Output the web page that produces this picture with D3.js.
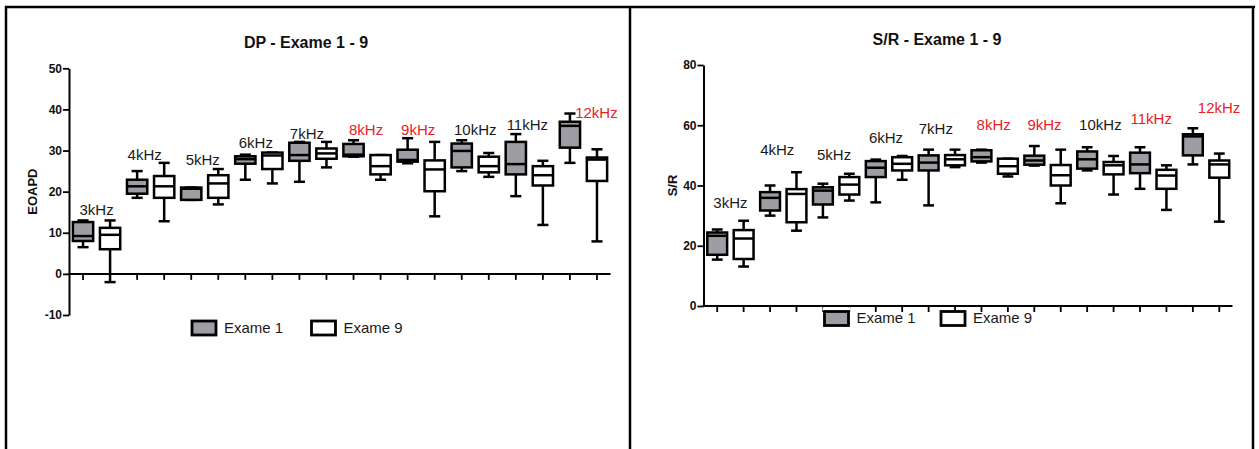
<!DOCTYPE html>
<html>
<head>
<meta charset="utf-8">
<script src="https://cdn.jsdelivr.net/npm/d3@7"></script>
<style>
  html, body { margin: 0; padding: 0; background: #fff; }
  svg { display: block; }
  text { font-family: "Liberation Sans", Arial, sans-serif; }
</style>
</head>
<body>
<svg id="chart" width="1259" height="449"></svg>
<script>
// ---------------- DATA ----------------
const categories = ["3kHz","4kHz","5kHz","6kHz","7kHz","8kHz","9kHz","10kHz","11kHz","12kHz"];
const seriesNames = ["Exame 1", "Exame 9"];

// each entry: [min, q1, median, q3, max]
const dpExame1 = [
  [6.5, 8.0, 9.2, 12.6, 13.0],
  [18.5, 19.5, 21.3, 22.9, 25.0],
  [18.0, 18.0, 20.7, 21.0, 21.0],
  [22.9, 26.8, 27.9, 28.6, 29.0],
  [22.4, 27.5, 28.9, 31.9, 32.1],
  [28.5, 28.6, 29.0, 31.6, 32.5],
  [26.9, 27.3, 27.7, 30.2, 33.0],
  [25.0, 25.9, 29.9, 31.7, 32.5],
  [18.9, 24.2, 26.7, 32.1, 34.0],
  [27.0, 30.7, 36.0, 37.0, 39.0]
];
const dpExame9 = [
  [-2.0, 6.0, 9.5, 11.2, 13.0],
  [12.8, 18.5, 21.3, 23.8, 27.0],
  [16.9, 18.5, 22.0, 24.0, 25.5],
  [22.0, 25.5, 28.8, 29.5, 29.5],
  [25.9, 28.0, 29.3, 30.5, 32.1],
  [22.9, 24.2, 26.2, 28.9, 28.9],
  [14.0, 20.1, 25.4, 27.6, 32.1],
  [23.6, 24.7, 26.2, 28.5, 29.4],
  [11.9, 21.5, 24.0, 26.2, 27.5],
  [7.9, 22.6, 27.8, 28.3, 30.3]
];
const srExame1 = [
  [15.4, 17.0, 23.3, 24.4, 25.4],
  [30.0, 31.7, 35.9, 37.8, 40.0],
  [29.4, 33.7, 38.3, 39.4, 40.6],
  [34.4, 42.8, 45.9, 48.1, 48.6],
  [33.4, 45.0, 47.6, 50.0, 51.9],
  [47.6, 48.0, 49.4, 51.7, 51.9],
  [46.6, 46.9, 48.3, 49.9, 53.1],
  [45.0, 45.6, 48.7, 51.3, 52.7],
  [38.9, 44.1, 47.0, 50.9, 52.7],
  [47.0, 50.0, 56.3, 57.0, 59.0]
];
const srExame9 = [
  [13.1, 15.6, 22.4, 25.2, 28.3],
  [25.0, 27.8, 37.2, 38.8, 44.4],
  [35.0, 37.0, 40.3, 42.8, 43.9],
  [41.9, 45.0, 47.2, 49.4, 49.8],
  [46.1, 46.7, 48.7, 50.1, 51.9],
  [43.0, 43.9, 46.4, 48.9, 48.9],
  [34.1, 40.0, 43.4, 46.8, 51.9],
  [37.0, 43.7, 46.7, 47.8, 49.8],
  [31.9, 38.9, 43.3, 45.2, 46.7],
  [28.0, 42.6, 47.0, 48.3, 50.6]
];

// annotation anchor values (data units) for the frequency labels
const dpLabelValue = [14.2, 27.8, 26.4, 30.7, 32.9, 33.7, 33.7, 33.7, 35.0, 37.8];
const srLabelValue = [32.4, 50.1, 48.5, 54.2, 57.1, 58.4, 58.4, 58.4, 60.4, 64.0];
// which labels are highlighted in red
const dpLabelRed = [false,false,false,false,false,true,true,false,false,true];
const srLabelRed = [false,false,false,false,false,true,true,false,true,true];

const dpTicks = [-10, 0, 10, 20, 30, 40, 50];
const srTicks = [0, 20, 40, 60, 80];

// ---------------- LAYOUT / STYLE ----------------
const GRAY = "#9d9da3";
const RED = "#e8211f";
const labelDx = [0, -6, -2, -3, -6, -1, -3, 0, -2, 13];

const svg = d3.select("#chart");

// page frame
const frame = svg.append("g").attr("stroke", "#000").attr("stroke-width", 2.5);
frame.append("line").attr("x1", 5).attr("x2", 1255).attr("y1", 7).attr("y2", 7);
frame.append("line").attr("x1", 6).attr("x2", 6).attr("y1", 6).attr("y2", 449);
frame.append("line").attr("x1", 630).attr("x2", 630).attr("y1", 6).attr("y2", 449);
frame.append("line").attr("x1", 1253).attr("x2", 1253).attr("y1", 6).attr("y2", 449);

function drawChart(cfg) {
  const g = svg.append("g");
  const keys = [];
  categories.forEach(c => seriesNames.forEach((s, j) => keys.push(c + "|" + j)));

  const x = d3.scaleBand().domain(keys).range(cfg.xRange).padding(0);
  const y = d3.scaleLinear().domain(cfg.yDomain).range(cfg.yRange);

  // title
  g.append("text").attr("x", cfg.titleX).attr("y", cfg.titleY)
    .attr("text-anchor", "middle").attr("font-size", 16).attr("font-weight", "bold")
    .attr("fill", "#111").text(cfg.title);

  // y axis
  const yAxis = d3.axisLeft(y).tickValues(cfg.ticks).tickSize(6).tickSizeOuter(0)
    .tickPadding(1).tickFormat(d => String(d));
  const ya = g.append("g").attr("transform", `translate(${cfg.xRange[0] - 0.5},0)`).call(yAxis);
  ya.select(".domain").attr("stroke", "#000").attr("stroke-width", 2);
  ya.selectAll(".tick line").attr("stroke", "#000").attr("stroke-width", 1.8);
  ya.selectAll(".tick text").attr("font-size", 12).attr("font-weight", "bold")
    .attr("fill", "#111").style("font-family", '"Liberation Sans", Arial, sans-serif');

  // y label
  g.append("text")
    .attr("transform", `translate(${cfg.yLabelX},${(cfg.yRange[0] + cfg.yRange[1]) / 2}) rotate(-90)`)
    .attr("text-anchor", "middle").attr("dy", "0.35em")
    .attr("font-size", 13).attr("font-weight", "bold").attr("fill", "#111").text(cfg.yLabel);

  // x axis at zero
  const xAxis = d3.axisBottom(x).tickSize(6).tickSizeOuter(0).tickFormat("");
  const xa = g.append("g").attr("transform", `translate(0,${y(0)})`).call(xAxis);
  xa.select(".domain").attr("stroke", "#000").attr("stroke-width", 2)
    .attr("d", `M${cfg.xRange[0] - 1.5},0H${cfg.xRange[1]}`);
  xa.selectAll(".tick line").attr("stroke", "#000").attr("stroke-width", 1.8);

  // boxes
  const bw = x.bandwidth() * 0.75;
  const cw = x.bandwidth() * 0.41;
  const items = [];
  categories.forEach((c, i) => {
    cfg.series.forEach((arr, j) => {
      const v = arr[i];
      items.push({ key: c + "|" + j, j, min: v[0], q1: v[1], med: v[2], q3: v[3], max: v[4] });
    });
  });
  const bg = g.append("g").attr("stroke", "#000").attr("stroke-width", 2.5).attr("fill", "none");
  const box = bg.selectAll("g.box").data(items).join("g").attr("class", "box")
    .attr("transform", d => `translate(${x(d.key) + x.bandwidth() / 2},0)`);
  box.append("line").attr("x1", 0).attr("x2", 0).attr("y1", d => y(d.max)).attr("y2", d => y(d.q3));
  box.append("line").attr("x1", 0).attr("x2", 0).attr("y1", d => y(d.q1)).attr("y2", d => y(d.min));
  box.append("line").attr("x1", -cw / 2).attr("x2", cw / 2).attr("y1", d => y(d.max)).attr("y2", d => y(d.max));
  box.append("line").attr("x1", -cw / 2).attr("x2", cw / 2).attr("y1", d => y(d.min)).attr("y2", d => y(d.min));
  box.append("rect").attr("x", -bw / 2).attr("width", bw)
    .attr("y", d => y(d.q3)).attr("height", d => Math.max(0.1, y(d.q1) - y(d.q3)))
    .attr("fill", d => d.j === 0 ? GRAY : "#fff");
  box.append("line").attr("x1", -bw / 2).attr("x2", bw / 2).attr("y1", d => y(d.med)).attr("y2", d => y(d.med));

  // frequency labels
  g.append("g").selectAll("text").data(categories).join("text")
    .attr("x", (c, i) => (x(c + "|0") + x(c + "|1") + x.bandwidth()) / 2 + labelDx[i])
    .attr("y", (c, i) => y(cfg.labelValue[i]))
    .attr("text-anchor", "middle").attr("font-size", 15)
    .attr("fill", (c, i) => cfg.labelRed[i] ? RED : "#1a1a1a")
    .text(c => c);

  // legend
  const lg = g.append("g");
  if (cfg.legendBg) {
    lg.append("rect").attr("x", cfg.legendX[0] - 2).attr("y", y(0) + 1.2)
      .attr("width", 28).attr("height", cfg.legendY - y(0) - 1.5).attr("fill", "#fff");
  }
  seriesNames.forEach((s, j) => {
    lg.append("rect").attr("x", cfg.legendX[j]).attr("y", cfg.legendY)
      .attr("width", 24).attr("height", 14)
      .attr("fill", j === 0 ? GRAY : "#fff").attr("stroke", "#000").attr("stroke-width", 2.8);
    lg.append("text").attr("x", cfg.legendX[j] + 32).attr("y", cfg.legendY + 11.5)
      .attr("font-size", 15).attr("fill", "#1a1a1a").text(s);
  });
}

drawChart({
  title: "DP - Exame 1 - 9", titleX: 306, titleY: 48,
  yLabel: "EOAPD", yLabelX: 32.5,
  xRange: [69.5, 610.5], yDomain: [-10, 50], yRange: [315, 68.3],
  ticks: dpTicks, series: [dpExame1, dpExame9],
  labelValue: dpLabelValue, labelRed: dpLabelRed,
  legendX: [192, 311.5], legendY: 321, legendBg: false
});

drawChart({
  title: "S/R - Exame 1 - 9", titleX: 937, titleY: 45,
  yLabel: "S/R", yLabelX: 672,
  xRange: [704, 1232.5], yDomain: [0, 80], yRange: [306, 65],
  ticks: srTicks, series: [srExame1, srExame9],
  labelValue: srLabelValue, labelRed: srLabelRed,
  legendX: [824.5, 941], legendY: 311.5, legendBg: true
});
</script>
</body>
</html>
